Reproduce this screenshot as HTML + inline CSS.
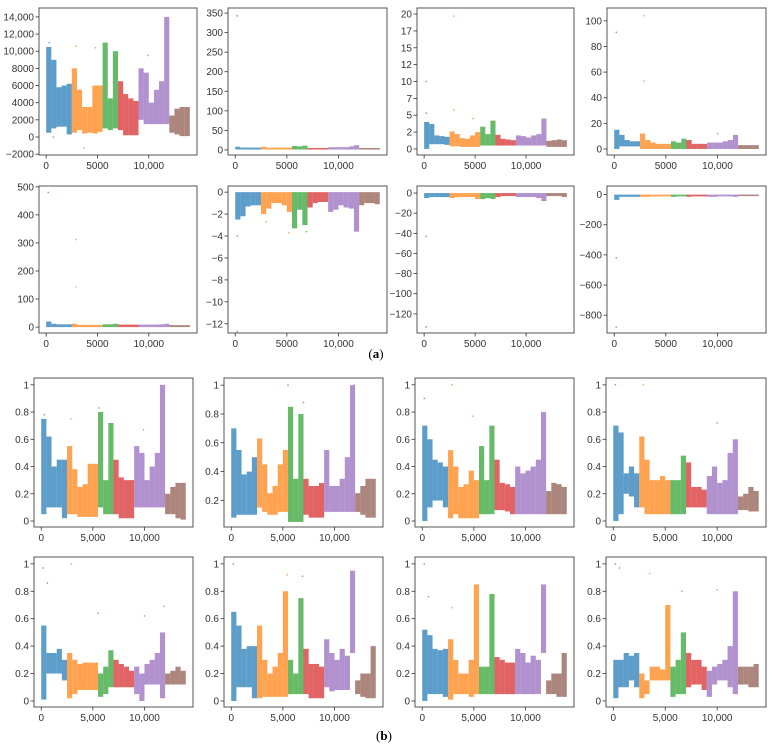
<!DOCTYPE html>
<html><head><meta charset="utf-8">
<style>
html,body{margin:0;padding:0;background:#fff;}
svg{display:block;font-family:"Liberation Sans",sans-serif;}
</style></head>
<body>
<svg id="fig" width="771" height="749" viewBox="0 0 771 749" xmlns="http://www.w3.org/2000/svg">
<text x="376" y="358" font-family="Liberation Serif,serif" font-size="13" text-anchor="middle">(<tspan font-weight="bold">a</tspan>)</text>
<text x="384" y="740" font-family="Liberation Serif,serif" font-size="13" text-anchor="middle">(<tspan font-weight="bold">b</tspan>)</text>
</svg>
<script>
const xStarts=[0,500,1000,1500,2000,2500,3000,3500,4000,4500,5000,5500,6000,6500,7000,7500,8000,8500,9000,9500,10000,10500,11000,11500,12000,12500,13000,13500];
const segBounds=[2500,5500,7000,9000,12000];
const segColors=["#1f77b4","#ff7f0e","#2ca02c","#d62728","#9467bd","#8c564b"];
const xTicks=[0,5000,10000];
const xLabelsA=["0","5000","10,000"];
const xLabelsB=["0","5,000","10,000"];

const a1Lo=[500,1000,1200,1200,300, 500,800,400,500,400,600, 1000,800,1000, 800,200,200,200, 2000,1500,1500,1500,1500,1500, 500,300,100,100];
const a1Hi=[10500,9000,5800,6000,6200, 8000,5500,3500,3500,6000,6000, 11000,4500,10000, 6500,5000,4500,4200, 8000,7500,4000,5500,6500,14000, 2500,3300,3500,3500];
const a2Lo=[1,1,1,1,1, 1,1,1,1,1,1, 1,1,1, 1,1,1,1, 1,1,1,1,1,1, 1,1,1,1];
const a2Hi=[8,6,6,6,6, 8,6,6,6,6,6, 10,9,11, 5,5,5,5, 7,7,7,7,9,12, 5,5,5,5];
const a3Lo=[0,0.7,0.7,0.7,0.6, 0.4,0.4,0.3,0.3,0.3,0.3, 0.5,0.5,0.5, 0.5,0.5,0.5,0.5, 0.5,0.5,0.5,0.5,0.5,0.5, 0.3,0.3,0.3,0.3];
const a3Hi=[4,3.7,2,1.9,1.8, 2.6,2.2,1.6,1.5,2,2.5, 3.3,2.2,4.2, 2.1,1.5,1.4,1.3, 2,1.9,1.7,2,2.2,4.5, 1.2,1.3,1.4,1.3];
const a4Lo=[0,2,2,2,2, 0,0,0,0,0,0, 0,0,0, 0,0,0,0, 0,0,0,0,0,0, 0,0,0,0];
const a4Hi=[15,11,7,6,6, 12,7,5,4,4,4, 6,5,8, 7,4,4,4, 5,5,5,6,7,11, 3,3,3,3];
const a5Lo=[0,0,0,0,0, 0,0,0,0,0,0, 0,0,0, 0,0,0,0, 0,0,0,0,0,0, 0,0,0,0];
const a5Hi=[20,12,10,10,10, 12,8,8,8,8,8, 10,10,12, 9,9,9,9, 9,9,9,9,10,12, 7,7,7,7];
const a6Lo=[-2.5,-2.2,-1.3,-1.2,-1.2, -2,-1.5,-1,-1,-1.2,-1.8, -3.3,-1.6,-3, -1.4,-1,-0.9,-0.9, -1.8,-1.6,-1.2,-1.4,-1.5,-3.6, -1.2,-1,-1,-1.1];
const a6Hi=[0,0,0,0,0, 0,0,0,0,0,0, 0,0,0, 0,0,0,0, 0,0,0,0,0,0, 0,0,0,0];
const a7Lo=[-5,-4,-4,-4,-4, -5,-4,-4,-4,-4,-6, -6,-5,-6, -4,-3,-3,-3, -4,-4,-4,-4,-5,-8, -3,-3,-3,-4];
const a7Hi=[0,0,0,0,0, 0,0,0,0,0,0, 0,0,0, 0,0,0,0, 0,0,0,0,0,0, 0,0,0,0];
const a8Lo=[-35,-15,-15,-15,-15, -15,-15,-12,-12,-12,-12, -15,-12,-12, -15,-12,-12,-12, -15,-15,-12,-12,-12,-15, -10,-10,-10,-10];
const a8Hi=[0,0,0,0,0, 0,0,0,0,0,0, 0,0,0, 0,0,0,0, 0,0,0,0,0,0, 0,0,0,0];

const b1Lo=[0.05,0.1,0.1,0.1,0.02, 0.05,0.05,0.03,0.03,0.03,0.03, 0.1,0.05,0.05, 0.05,0.02,0.02,0.02, 0.1,0.1,0.1,0.1,0.1,0.1, 0.05,0.05,0.02,0.01];
const b1Hi=[0.75,0.62,0.4,0.45,0.45, 0.55,0.38,0.25,0.27,0.42,0.42, 0.8,0.3,0.72, 0.45,0.32,0.3,0.3, 0.55,0.5,0.3,0.4,0.5,1.0, 0.2,0.25,0.28,0.28];
const b2Lo=[0.08,0.1,0.1,0.1,0.1, 0.15,0.12,0.1,0.1,0.12,0.12, 0.05,0.05,0.05, 0.1,0.08,0.08,0.08, 0.12,0.12,0.12,0.12,0.12,0.12, 0.12,0.1,0.08,0.08];
const b2Hi=[0.7,0.55,0.38,0.4,0.5, 0.63,0.45,0.25,0.3,0.45,0.55, 0.85,0.35,0.8, 0.35,0.3,0.3,0.32, 0.55,0.3,0.3,0.35,0.5,1.0, 0.25,0.3,0.35,0.35];
const b3Lo=[0,0.1,0.15,0.15,0.1, 0.02,0.05,0.02,0.02,0.02,0.02, 0.05,0.05,0.05, 0.08,0.08,0.07,0.05, 0.05,0.05,0.05,0.05,0.05,0.05, 0.05,0.05,0.05,0.05];
const b3Hi=[0.7,0.6,0.45,0.43,0.4, 0.52,0.4,0.25,0.27,0.37,0.3, 0.55,0.3,0.7, 0.45,0.28,0.27,0.25, 0.4,0.35,0.37,0.4,0.45,0.8, 0.22,0.28,0.27,0.25];
const b4Lo=[0,0.05,0.2,0.18,0.1, 0.1,0.05,0.05,0.05,0.05,0.05, 0.05,0.05,0.05, 0.1,0.1,0.1,0.1, 0.05,0.05,0.05,0.05,0.05,0.05, 0.08,0.08,0.07,0.07];
const b4Hi=[0.7,0.65,0.35,0.4,0.35, 0.62,0.45,0.3,0.3,0.33,0.3, 0.3,0.3,0.48, 0.43,0.25,0.25,0.23, 0.33,0.4,0.28,0.3,0.5,0.6, 0.18,0.2,0.25,0.22];
const b5Lo=[0.01,0.2,0.2,0.2,0.15, 0.02,0.05,0.08,0.08,0.08,0.08, 0.03,0.05,0.1, 0.1,0.1,0.1,0.1, 0.05,0.0,0.12,0.12,0.12,0.02, 0.12,0.12,0.12,0.12];
const b5Hi=[0.55,0.35,0.35,0.38,0.3, 0.35,0.3,0.27,0.28,0.28,0.28, 0.2,0.25,0.37, 0.3,0.27,0.25,0.22, 0.25,0.2,0.27,0.3,0.35,0.5, 0.2,0.22,0.25,0.22];
const b6Lo=[0,0.1,0.1,0.1,0.02, 0.02,0.03,0.03,0.03,0.03,0.03, 0.05,0.05,0.05, 0.05,0.02,0.02,0.02, 0.1,0.07,0.08,0.08,0.08,0.35, 0.05,0.03,0.02,0.02];
const b6Hi=[0.65,0.55,0.38,0.4,0.4, 0.55,0.3,0.2,0.25,0.35,0.8, 0.3,0.2,0.75, 0.38,0.27,0.27,0.25, 0.45,0.35,0.3,0.38,0.33,0.95, 0.15,0.2,0.2,0.4];
const b7Lo=[0,0.05,0.05,0.05,0.03, 0.01,0.05,0.05,0.05,0.03,0.05, 0.05,0.05,0.05, 0.05,0.05,0.05,0.05, 0.05,0.05,0.05,0.05,0.05,0.35, 0.05,0.05,0.03,0.03];
const b7Hi=[0.52,0.48,0.38,0.37,0.38, 0.45,0.3,0.2,0.2,0.3,0.85, 0.25,0.25,0.78, 0.32,0.3,0.28,0.28, 0.38,0.35,0.28,0.33,0.3,0.85, 0.15,0.2,0.2,0.35];
const b8Lo=[0.02,0.1,0.1,0.15,0.1, 0.02,0.05,0.15,0.15,0.15,0.15, 0.03,0.05,0.05, 0.1,0.12,0.12,0.08, 0.03,0.12,0.15,0.15,0.1,0.05, 0.12,0.12,0.1,0.1];
const b8Hi=[0.3,0.3,0.35,0.33,0.35, 0.2,0.15,0.25,0.25,0.23,0.7, 0.25,0.3,0.5, 0.35,0.3,0.3,0.25, 0.22,0.25,0.27,0.3,0.4,0.8, 0.25,0.25,0.25,0.27];

const a1Out=[[300,11000],[700,0],[2900,10600],[3700,-1300],[4800,10400],[9900,9500]];
const a2Out=[[200,343]];
const a3Out=[[200,10],[200,5.3],[2900,19.7],[2900,5.8],[4800,4.5]];
const a4Out=[[200,91],[2900,104],[2900,53],[10000,12]];
const a5Out=[[200,480],[2900,312],[2900,143]];
const a6Out=[[200,-4],[200,-12.7],[5200,-3.7],[6900,-3.6],[3000,-2.7]];
const a7Out=[[200,-43],[200,-133]];
const a8Out=[[200,-420],[200,-880]];
const bOut1=[[300,0.78],[2900,0.75],[5600,0.83],[9900,0.67]];
const bOut2=[[5500,1.0],[7000,0.88],[11900,1.0]];
const bOut3=[[200,0.9],[2900,1.0],[4900,0.77]];
const bOut4=[[200,1.0],[2900,1.0],[10000,0.72]];
const bOut5=[[200,0.97],[600,0.86],[2900,1.0],[5500,0.64],[10000,0.62],[11900,0.69]];
const bOut6=[[200,1.0],[5400,0.92],[6900,0.91]];
const bOut7=[[200,1.0],[600,0.76],[2900,0.68]];
const bOut8=[[200,1.0],[600,0.97],[3500,0.93],[6600,0.8],[10000,0.81]];

const yTicksA1=[-2000,0,2000,4000,6000,8000,10000,12000,14000];
const yLabA1=["\u22122000","0","2000","4000","6000","8000","10,000","12,000","14,000"];
const yTicksA2=[0,50,100,150,200,250,300,350];
const yTicksA3=[0,2.5,5,7.5,10,12.5,15,17.5,20];
const yLabA3=["0","2","5","7","10","12","15","17","20"];
const yTicksA4=[0,20,40,60,80,100];
const yTicksA5=[0,100,200,300,400,500];
const yTicksA6=[-12,-10,-8,-6,-4,-2,0];
const yTicksA7=[-120,-100,-80,-60,-40,-20,0];
const yTicksA8=[-800,-600,-400,-200,0];
const yTicksB=[0,0.2,0.4,0.6,0.8,1.0];
const yTicksB2=[0.2,0.4,0.6,0.8,1.0];

const NS="http://www.w3.org/2000/svg";
const svg=document.getElementById('fig');
function mk(tag,attrs,parent){const e=document.createElementNS(NS,tag);for(const k in attrs)e.setAttribute(k,attrs[k]);(parent||svg).appendChild(e);return e;}
function fmt(v){return (v<0?"\u2212":"")+(Number.isInteger(v)?String(Math.abs(v)):Math.abs(v).toFixed(1));}
function segColor(x){let i=0;while(i<segBounds.length&&x>=segBounds[i])i++;return segColors[i];}

const panels=[
 {n:"a1",f:[39,8,197,155],yd:[-2100,15040],t:yTicksA1,l:yLabA1,lo:a1Lo,hi:a1Hi,o:a1Out,xl:xLabelsA},
 {n:"a2",f:[228,8,387,155],yd:[-13,363],t:yTicksA2,lo:a2Lo,hi:a2Hi,o:a2Out,xl:xLabelsA},
 {n:"a3",f:[417,8,574,155],yd:[-0.9,20.9],t:yTicksA3,l:yLabA3,lo:a3Lo,hi:a3Hi,o:a3Out,xl:xLabelsA},
 {n:"a4",f:[607,8,766,155],yd:[-4.7,110],t:yTicksA4,lo:a4Lo,hi:a4Hi,o:a4Out,xl:xLabelsA},
 {n:"a5",f:[39,186,197,333],yd:[-21,503],t:yTicksA5,lo:a5Lo,hi:a5Hi,o:a5Out,xl:xLabelsA},
 {n:"a6",f:[228,186,387,333],yd:[-12.84,0.56],t:yTicksA6,lo:a6Lo,hi:a6Hi,o:a6Out,xl:xLabelsA},
 {n:"a7",f:[417,186,574,333],yd:[-139,7],t:yTicksA7,lo:a7Lo,hi:a7Hi,o:a7Out,xl:xLabelsA},
 {n:"a8",f:[607,186,766,333],yd:[-918,57],t:yTicksA8,lo:a8Lo,hi:a8Hi,o:a8Out,xl:xLabelsA},
 {n:"b1",f:[34,378,193,527],yd:[-0.044,1.05],t:yTicksB,lo:b1Lo,hi:b1Hi,o:bOut1,xl:xLabelsB},
 {n:"b2",f:[224,378,383,527],yd:[0.015,1.05],t:yTicksB2,lo:b2Lo,hi:b2Hi,o:bOut2,xl:xLabelsB},
 {n:"b3",f:[415,378,574,527],yd:[-0.044,1.05],t:yTicksB,lo:b3Lo,hi:b3Hi,o:bOut3,xl:xLabelsB},
 {n:"b4",f:[606,378,766,527],yd:[-0.044,1.05],t:yTicksB,lo:b4Lo,hi:b4Hi,o:bOut4,xl:xLabelsB},
 {n:"b5",f:[34,557,193,707],yd:[-0.044,1.05],t:yTicksB,lo:b5Lo,hi:b5Hi,o:bOut5,xl:xLabelsB},
 {n:"b6",f:[224,557,383,707],yd:[-0.044,1.05],t:yTicksB,lo:b6Lo,hi:b6Hi,o:bOut6,xl:xLabelsB},
 {n:"b7",f:[415,557,574,707],yd:[-0.044,1.05],t:yTicksB,lo:b7Lo,hi:b7Hi,o:bOut7,xl:xLabelsB},
 {n:"b8",f:[606,557,766,707],yd:[-0.044,1.05],t:yTicksB,lo:b8Lo,hi:b8Hi,o:bOut8,xl:xLabelsB}
];

panels.forEach(p=>{
  const [x0,y0,x1,y1]=p.f;
  const xd=[-700,14700];
  const sx=v=>x0+(v-xd[0])/(xd[1]-xd[0])*(x1-x0);
  const sy=v=>y1-(v-p.yd[0])/(p.yd[1]-p.yd[0])*(y1-y0);
  const g=mk('g',{});
  
  
  xStarts.forEach((xs,i)=>{
    const xe=Math.min(xs+500,14000);
    const top=sy(p.hi[i]),bot=sy(p.lo[i]);
    const r=mk('rect',{x:sx(xs),y:top,width:Math.max(sx(xe)-sx(xs),0.5),height:Math.max(bot-top,1.5),fill:segColor(xs),opacity:0.72},g);
    
    
  });
  p.o.forEach((pt,i)=>{
    const c=mk('circle',{cx:sx(pt[0]),cy:sy(pt[1]),r:0.9,fill:segColor(pt[0]),opacity:0.6},g);
    
    
  });
  const fr=mk('rect',{x:x0,y:y0,width:x1-x0,height:y1-y0,fill:'none',stroke:'#555','stroke-width':1},g);
  
  
  p.t.forEach((v,i)=>{
    const y=sy(v);
    mk('line',{x1:x0-3.5,x2:x0,y1:y,y2:y,stroke:'#333','stroke-width':0.8},g);
    const t=mk('text',{x:x0-5,y:y+3.5,'font-size':10,'text-anchor':'end',fill:'#333'},g);
    t.textContent=p.l?p.l[i]:fmt(v);
    
    
  });
  xTicks.forEach((v,i)=>{
    const x=sx(v);
    mk('line',{x1:x,x2:x,y1:y1,y2:y1+3.5,stroke:'#333','stroke-width':0.8},g);
    const t=mk('text',{x:x,y:y1+14,'font-size':10,'text-anchor':'middle',fill:'#333'},g);
    t.textContent=p.xl[i];
    
    
  });
});
</script>
</body></html>
